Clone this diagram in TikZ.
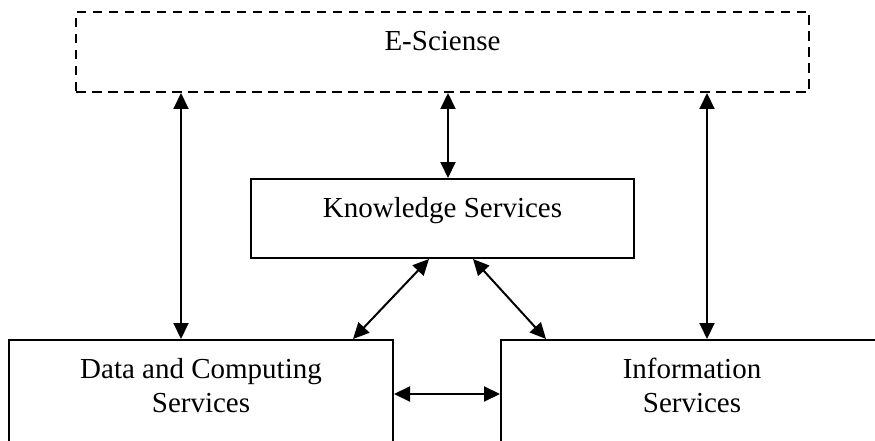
\documentclass[tikz,border=0pt]{standalone}
\usepackage{fontspec}
\setmainfont{Liberation Serif}
\usetikzlibrary{arrows.meta}
\begin{document}
\begin{tikzpicture}[x=1pt,y=-1pt,
  box/.style={draw, line width=2pt, inner sep=0pt, rectangle},
  dashbox/.style={box, dash pattern=on 9.5pt off 6.5pt},
  lbl/.style={anchor=base, align=center, inner sep=0pt,
    font=\fontsize{29}{34}\selectfont},
  link/.style={line width=2pt, {Triangle[length=16pt,width=15pt]}-{Triangle[length=16pt,width=15pt]}}]
  \useasboundingbox (0,0) rectangle (875,441);
  \clip (0,0) rectangle (875,441);

  % boxes
  \node[dashbox, minimum width=733pt, minimum height=80pt] (es) at (442.5,52) {};
  \node[box, minimum width=383pt, minimum height=79pt] (ks) at (442.5,218.5) {};
  \node[box, minimum width=384pt, minimum height=140pt] (dc) at (201,410) {};
  \node[box, minimum width=382pt, minimum height=140pt] (is) at (692,410) {};

  % labels (base anchor sits on the last line)
  \node[lbl] (esl) at (442.5,51) {E-Sciense};
  \node[lbl] (ksl) at (442.5,217) {Knowledge Services};
  \node[lbl] (dcl) at (201,412) {Data and Computing\\Services};
  \node[lbl] (isl) at (692,412) {Information\\Services};

  % connectors
  \draw[link] (es.south -| 181,0) -- (dc.north -| 181,0);
  \draw[link] (es.south -| 707,0) -- (is.north -| 707,0);
  \draw[link] (es.south -| 448,0) -- (ks.north -| 448,0);
  \draw[link] (ks.south -| 429,0) -- (dc.north -| 353,0);
  \draw[link] (ks.south -| 473,0) -- (is.north -| 546,0);
  \draw[link] (dc.east |- 0,394) -- (is.west |- 0,394);
\end{tikzpicture}
\end{document}
